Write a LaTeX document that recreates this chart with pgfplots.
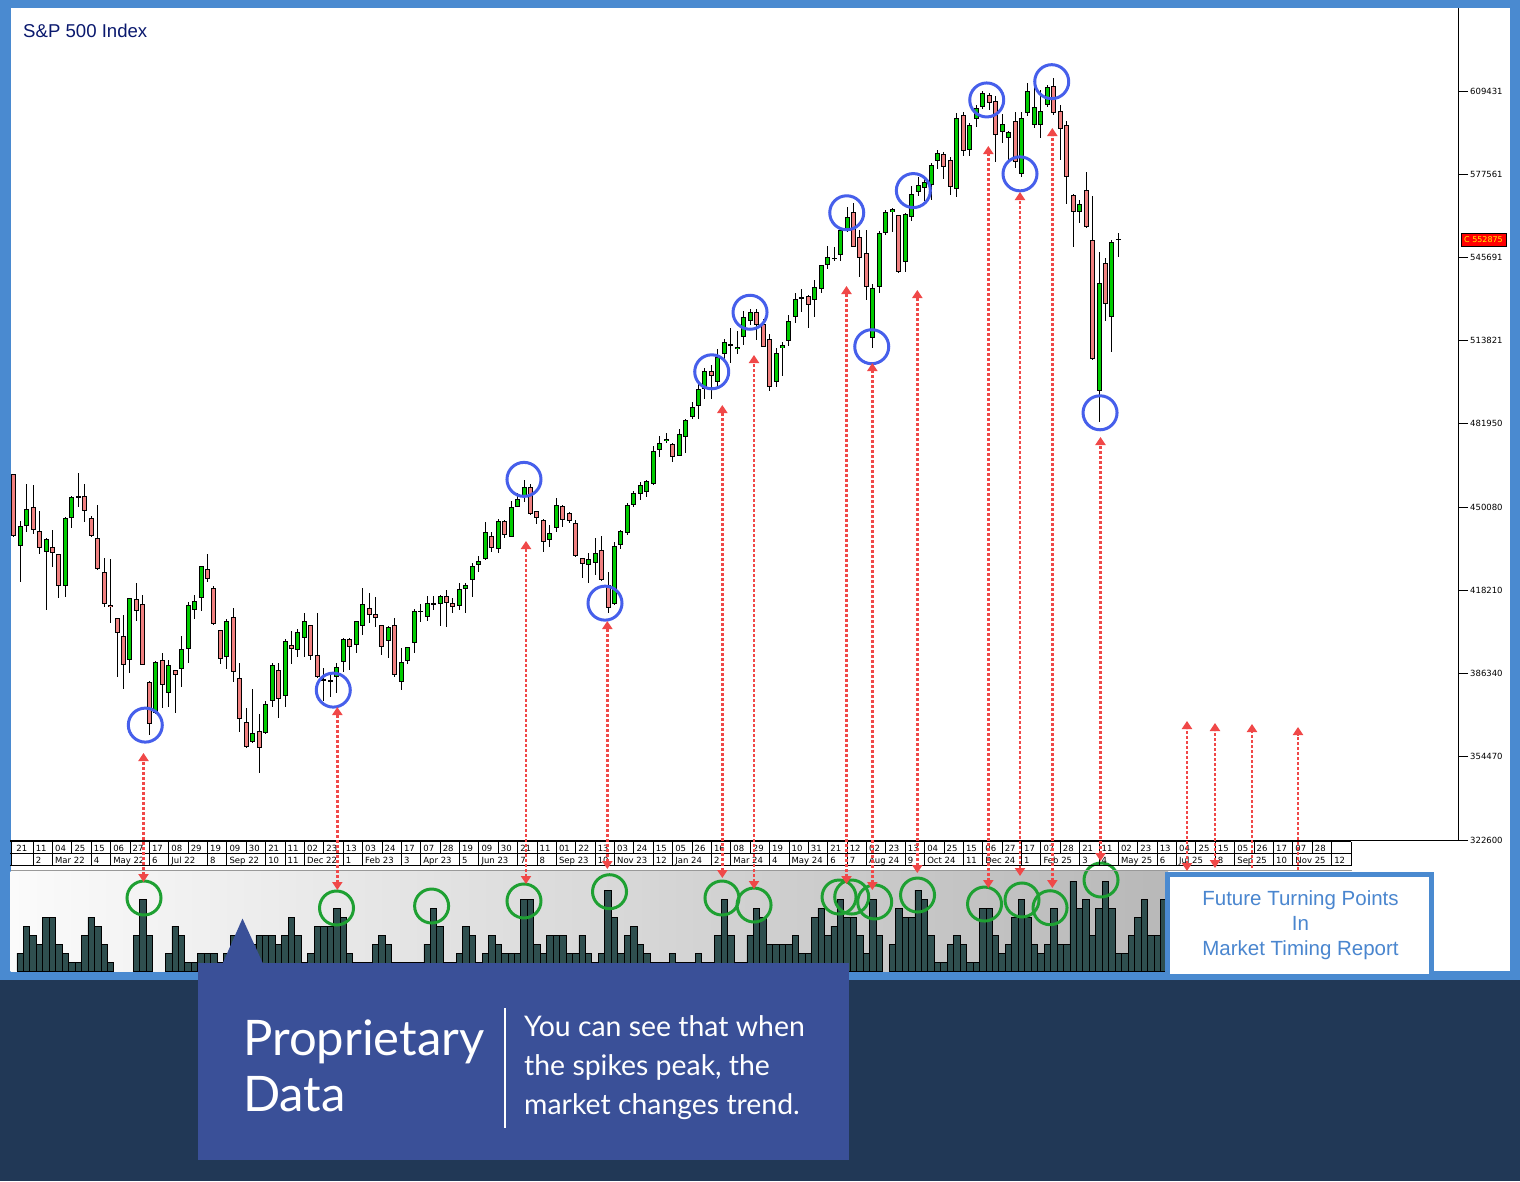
\documentclass[border=0pt]{standalone}
\usepackage{pgfplots}
\pgfplotsset{compat=1.18}
\usepackage{pgfplotstable}
\usetikzlibrary{arrows.meta}
\usepackage{fontspec}
\setmainfont{Liberation Sans}
\newfontfamily\dejavu{DejaVu Sans}
\newfontfamily\lato{Lato}

\definecolor{frameblue}{RGB}{74,138,208}
\definecolor{navyband}{RGB}{33,56,86}
\definecolor{callout}{RGB}{58,80,152}
\definecolor{upgreen}{RGB}{0,204,0}
\definecolor{downpink}{RGB}{240,128,128}
\definecolor{circblue}{RGB}{70,95,235}
\definecolor{circgreen}{RGB}{30,160,50}
\definecolor{arrowred}{RGB}{240,72,72}
\definecolor{histbar}{RGB}{47,79,79}
\definecolor{histleft}{RGB}{251,251,251}
\definecolor{histright}{RGB}{184,184,184}
\definecolor{titlenavy}{RGB}{10,25,110}
\definecolor{futureblue}{RGB}{74,134,207}

\newcommand\datefont{\dejavu\fontsize{8.5}{9}\selectfont}

\tikzset{
 turn/.style={draw=arrowred, line width=2.8pt, dash pattern=on 3pt off 2pt,
   {Triangle[width=10pt,length=8pt]}-{Triangle[width=10pt,length=8pt]}},
 turnup/.style={draw=arrowred, line width=2.8pt, dash pattern=on 3pt off 2pt,
   -{Triangle[width=10pt,length=8pt]}}
}

\pgfplotstableread{
n o h l c
1 4627 4627 4388 4390
2 4351 4448 4215 4427
3 4427 4589 4407 4495
4 4500 4586 4397 4412
5 4408 4486 4320 4343
6 4328 4381 4108 4379
7 4349 4413 4273 4324
8 4320 4322 4152 4198
9 4198 4464 4156 4458
10 4458 4543 4420 4538
11 4537 4630 4502 4542
12 4542 4589 4445 4485
13 4458 4466 4385 4389
14 4381 4509 4260 4265
15 4251 4305 4120 4129
16 4125 4302 4056 4117
17 4075 4077 3851 4018
18 4006 4088 3805 3896
19 3914 4153 3867 4152
20 4148 4209 4066 4103
21 4130 4164 3895 3896
22 3832 3833 3628 3669
23 3712 3912 3710 3908
24 3914 3943 3733 3819
25 3788 3915 3737 3895
26 3876 3878 3714 3857
27 3880 4007 3813 3956
28 3959 4139 3905 4125
29 4107 4164 4074 4140
30 4152 4276 4104 4274
31 4263 4320 4214 4226
32 4190 4199 4050 4052
33 4029 4031 3899 3919
34 3926 4071 3880 4065
35 4079 4113 3832 3868
36 3845 3903 3641 3688
37 3677 3730 3577 3581
38 3603 3803 3599 3635
39 3642 3709 3484 3577
40 3635 3757 3632 3748
41 3757 3903 3737 3895
42 3876 3903 3692 3765
43 3776 3997 3737 3987
44 3972 4028 3900 3959
45 3953 4033 3928 4021
46 3999 4094 3928 4065
47 4048 4050 3915 3930
48 3933 4097 3847 3849
49 3842 3884 3760 3839
50 3834 3858 3775 3837
51 3851 3903 3788 3890
52 3907 3999 3871 3996
53 3996 3998 3877 3966
54 3972 4065 3941 4064
55 4044 4190 4011 4131
56 4113 4173 4056 4087
57 4090 4156 4043 4075
58 4048 4050 3935 3964
59 3987 4046 3922 4041
60 4048 4075 3851 3857
61 3831 3960 3801 3909
62 3913 3966 3900 3964
63 3979 4110 3943 4104
64 4100 4130 4062 4103
65 4079 4162 4066 4133
66 4127 4162 4107 4133
67 4129 4163 4046 4162
68 4162 4183 4043 4133
69 4133 4152 4094 4117
70 4123 4209 4107 4186
71 4186 4209 4097 4201
72 4222 4288 4158 4277
73 4278 4314 4254 4293
74 4303 4445 4298 4404
75 4390 4406 4330 4343
76 4339 4454 4324 4447
77 4447 4452 4381 4393
78 4388 4525 4385 4500
79 4502 4556 4500 4531
80 4543 4605 4522 4577
81 4579 4589 4471 4473
82 4485 4486 4436 4458
83 4453 4454 4330 4367
84 4374 4431 4349 4402
85 4421 4537 4407 4510
86 4504 4508 4424 4450
87 4477 4483 4439 4447
88 4439 4452 4309 4315
89 4305 4306 4231 4282
90 4279 4324 4211 4303
91 4286 4381 4241 4324
92 4337 4390 4219 4222
93 4203 4254 4094 4113
94 4130 4368 4126 4353
95 4356 4413 4339 4409
96 4402 4518 4393 4509
97 4508 4563 4502 4554
98 4550 4598 4528 4587
99 4558 4605 4541 4600
100 4588 4735 4585 4715
101 4720 4773 4692 4748
102 4753 4786 4745 4763
103 4741 4748 4675 4692
104 4698 4799 4696 4780
105 4768 4837 4709 4833
106 4847 4902 4837 4885
107 4888 4975 4839 4952
108 4952 5033 4914 5021
109 5021 5045 4914 5003
110 4981 5105 4956 5077
111 5087 5144 5064 5133
112 5124 5186 5052 5117
113 5105 5175 5087 5113
114 5151 5253 5122 5228
115 5212 5258 5198 5249
116 5249 5258 5141 5197
117 5202 5220 5113 5115
118 5144 5164 4947 4962
119 4981 5109 4962 5092
120 5109 5134 5003 5121
121 5136 5238 5118 5215
122 5228 5320 5205 5297
123 5301 5335 5249 5303
124 5311 5312 5186 5275
125 5294 5371 5230 5344
126 5335 5429 5322 5427
127 5427 5501 5414 5458
128 5452 5498 5442 5455
129 5466 5562 5443 5561
130 5561 5649 5556 5611
131 5632 5664 5496 5498
132 5536 5562 5383 5454
133 5473 5562 5294 5343
134 5147 5354 5111 5341
135 5343 5558 5320 5550
136 5552 5639 5543 5631
137 5632 5645 5556 5641
138 5620 5621 5396 5402
139 5438 5626 5400 5622
140 5611 5731 5598 5699
141 5707 5764 5693 5734
142 5722 5762 5673 5745
143 5734 5820 5677 5811
144 5828 5869 5796 5856
145 5852 5862 5756 5802
146 5829 5842 5696 5725
147 5718 6009 5690 5990
148 6003 6015 5847 5865
149 5867 5973 5846 5963
150 5986 6041 5958 6028
151 6034 6094 6024 6086
152 6079 6086 6022 6047
153 6057 6075 5824 5925
154 5936 6005 5896 5967
155 5914 5942 5830 5936
156 5978 6015 5798 5821
157 5775 6015 5766 5990
158 6009 6124 5999 6096
159 5963 6117 5954 6034
160 5963 6098 5916 6019
161 6040 6117 6034 6109
162 6115 6143 6003 6009
163 6019 6041 5830 5948
164 5963 5980 5661 5764
165 5697 5699 5498 5632
166 5630 5677 5590 5661
167 5714 5783 5569 5575
168 5523 5692 5064 5067
169 4947 5477 4828 5358
170 5435 5454 5215 5278
171 5228 5523 5096 5517
172 5523 5550 5460 5529
}\candles

\pgfplotstableread{
n v
2 2
3 5
4 4
5 3
6 6
7 6
8 3
9 2
10 1
11 1
12 4
13 6
14 5
15 3
16 1
20 4
21 8
22 4
25 2
26 5
27 4
28 1
29 1
30 2
31 2
32 2
33 1
34 2
35 4
36 3
37 3
38 3
39 4
40 4
41 4
42 3
43 4
44 6
45 4
46 1
47 2
48 5
49 5
50 5
51 7
52 6
53 2
54 1
55 1
56 1
57 3
58 4
59 3
60 1
61 1
62 1
63 1
64 1
65 3
66 7
67 5
68 1
69 1
70 2
71 5
72 4
73 1
74 2
75 4
76 3
77 2
78 2
79 2
80 8
81 8
82 3
83 2
84 4
85 4
86 4
87 2
88 2
89 4
90 2
91 1
92 2
93 9
94 6
95 2
96 4
97 5
98 3
99 2
100 1
101 1
102 1
103 2
104 1
105 1
106 1
107 2
108 1
109 1
110 4
111 8
112 4
113 1
114 1
115 4
116 7
117 6
118 3
119 3
120 3
121 3
122 4
123 2
124 2
125 6
126 7
127 4
128 5
129 8
130 6
131 6
132 4
133 2
134 8
135 4
137 3
138 7
139 6
140 6
141 9
142 8
143 4
144 1
145 1
146 3
147 4
148 3
149 1
150 1
151 7
152 7
153 4
154 2
155 3
156 6
157 8
158 6
159 3
160 2
161 3
162 7
163 3
164 3
165 10
166 7
167 8
168 4
169 7
170 10
171 7
172 2
173 2
174 4
175 6
176 8
177 4
178 4
179 8
}\hist

\begin{document}
\begin{tikzpicture}
\useasboundingbox (0pt,0pt) rectangle (1520pt,-1181pt);
\begin{scope}[x=1pt,y=-1pt]
 \fill[frameblue] (0,0) rectangle (1520,1181);
 \fill[navyband] (0,980) rectangle (1520,1181);
 \fill[white] (10.5,8) rectangle (1510,971);
 \shade[left color=histleft, right color=histright] (10.5,871) rectangle (1168,971);
\end{scope}

% ---------- candlestick chart ----------
\begin{axis}[
  at={(10pt,-840pt)}, anchor=south west,
  width=1448pt, height=832pt, scale only axis,
  xmin=0.427, xmax=224.57, ymin=3226, ymax=6412.2,
  axis x line*=bottom, axis y line*=right,
  axis line style={-, line width=1pt, black},
  xtick=\empty,
  ytick={3226,3544.7,3863.4,4182.1,4500.8,4819.5,5138.21,5456.91,5775.61,6094.31},
  yticklabels={322600,354470,386340,418210,450080,481950,513821,545691,577561,609431},
  tick align=outside, major tick length=10pt,
  tick style={black, line width=0.8pt},
  yticklabel style={font=\datefont, anchor=west, inner sep=0pt, xshift=2pt, text=black},
  clip=true,
]
% wicks
\addplot[draw=none, mark=none, error bars/.cd, y dir=both, y explicit, error mark=none,
  error bar style={draw=black, line width=1pt}]
  table[x=n, y expr={(\thisrow{h}+\thisrow{l})/2}, y error expr={(\thisrow{h}-\thisrow{l})/2}] {\candles};
% body outlines
\addplot[draw=none, mark=none, error bars/.cd, y dir=both, y explicit, error mark=none,
  error bar style={draw=black, line width=5pt}]
  table[x=n, y expr={(\thisrow{o}+\thisrow{c})/2}, y error expr={max(abs(\thisrow{c}-\thisrow{o})/2,2)}] {\candles};
% up bodies
\addplot[draw=none, mark=none, error bars/.cd, y dir=both, y explicit, error mark=none,
  error bar style={draw=upgreen, line width=3pt}]
  table[x=n, y expr={(\thisrow{c}>=\thisrow{o}) ? ((\thisrow{o}+\thisrow{c})/2) : 0},
        y error expr={max(abs(\thisrow{c}-\thisrow{o})/2-3.8,0)}] {\candles};
% down bodies
\addplot[draw=none, mark=none, error bars/.cd, y dir=both, y explicit, error mark=none,
  error bar style={draw=downpink, line width=3pt}]
  table[x=n, y expr={(\thisrow{c}<\thisrow{o}) ? ((\thisrow{o}+\thisrow{c})/2) : 0},
        y error expr={max(abs(\thisrow{c}-\thisrow{o})/2-3.8,0)}] {\candles};
% turning point circles
\addplot[only marks, mark=o, mark size=17pt, mark options={draw=circblue, line width=3pt, fill=none}]
  coordinates {(21.37,3666) (50.47,3800) (79.99,4607) (92.53,4133) (109.05,5019) (114.98,5247)
  (129.95,5628) (133.82,5115) (140.26,5713) (151.62,6060) (156.77,5777) (161.68,6130) (169.16,4862)};
\end{axis}

% ---------- proprietary histogram ----------
\begin{axis}[
  at={(10pt,-971pt)}, anchor=south west,
  width=1158pt, height=100pt, scale only axis,
  xmin=0.427, xmax=179.68, ymin=0, ymax=11.11,
  hide axis, clip=false,
]
\addplot[ybar, bar width=1, fill=histbar, draw=black, line width=0.8pt] table[x=n,y=v]{\hist};
\addplot[only marks, mark=o, mark size=17pt, mark options={draw=circgreen, line width=3pt, fill=none}]
  coordinates {(21.17,8.11) (50.97,7.0) (65.69,7.22) (79.99,7.78) (93.23,8.81) (110.64,8.11)
  (115.6,7.33) (128.76,8.22) (130.72,8.22) (134.28,7.67) (140.91,8.44) (151.28,7.44)
  (157.08,7.89) (161.42,7.03) (169.31,10.11)};
\end{axis}

\begin{scope}[x=1pt,y=-1pt]
 % title
 \node[anchor=base west, inner sep=0pt, text=titlenavy, font=\fontsize{18.6}{21}\selectfont] at (23,37.5) {S\&P 500 Index};
 % last price label
 \node[fill=red, draw=black, line width=0.6pt, text=yellow, font=\dejavu\fontsize{8}{9}\selectfont,
   inner sep=0.5pt, minimum width=45pt, minimum height=13pt, anchor=west] at (1460.7,240) {C 552875};
 % histogram top line
 \draw[gray!80, line width=1.5pt] (10.5,870.5) -- (1352,870.5);
 % date table
 \draw[black, line width=0.8pt] (10,841.5) -- (1351,841.5) (10,853.5) -- (1351,853.5) (10,865.5) -- (1351,865.5);
 \draw[black, line width=0.8pt] (10.9,841.5) -- (10.9,865.5) (1351,841.5) -- (1351,865.5);
 \foreach \k in {1,...,68} \draw[black, line width=0.8pt] ({13.7+19.38*\k},841.5) -- ({13.7+19.38*\k},853.5);
 \foreach \lab [count=\i from 0] in {21,11,04,25,15,06,27,17,08,29,19,09,30,21,11,02,23,13,03,24,17,07,28,19,09,30,21,11,01,22,13,03,24,15,05,26,16,08,29,19,10,31,21,12,02,23,13,04,25,15,06,27,17,07,28,21,11,02,23,13,04,25,15,05,26,17,07,28}
   \node[anchor=base west, inner sep=0pt, font=\datefont] at ({13.7+19.38*\i+2.5},851.3) {\lab};
 \foreach \k/\lab in {1/2, 2/Mar 22, 4/4, 5/May 22, 7/6, 8/Jul 22, 10/8, 11/Sep 22, 13/10, 14/11, 15/Dec 22, 17/1, 18/Feb 23, 20/3, 21/Apr 23, 23/5, 24/Jun 23, 26/7, 27/8, 28/Sep 23, 30/10, 31/Nov 23, 33/12, 34/Jan 24, 36/2, 37/Mar 24, 39/4, 40/May 24, 42/6, 43/7, 44/Aug 24, 46/9, 47/Oct 24, 49/11, 50/Dec 24, 52/1, 53/Feb 25, 55/3, 56/4, 57/May 25, 59/6, 60/Jul 25, 62/8, 63/Sep 25, 65/10, 66/Nov 25, 68/12} {
   \draw[black, line width=0.8pt] ({13.7+19.38*\k},853.5) -- ({13.7+19.38*\k},865.5);
   \node[anchor=base west, inner sep=0pt, font=\datefont] at ({13.7+19.38*\k+2.5},863.3) {\lab};
 }
 % turning-point arrows
 \draw[turn] (143.5,882) -- (143.5,753);
 \draw[turn] (337.3,890) -- (337.3,707);
 \draw[turn] (526,884) -- (526,541);
 \draw[turn] (607.3,869) -- (607.3,621);
 \draw[turn] (722.3,878) -- (722.3,405);
 \draw[turn] (754,889) -- (754,355);
 \draw[turn] (846.5,884) -- (846.5,286);
 \draw[turn] (872.3,890) -- (872.3,363);
 \draw[turn] (917.3,873) -- (917.3,290);
 \draw[turn] (988.3,888) -- (988.3,146);
 \draw[turn] (1020,876) -- (1020,192);
 \draw[turn] (1052.3,888) -- (1052.3,128);
 \draw[turn] (1100.5,861) -- (1100.5,437);
 \draw[turn] (1187,871) -- (1187,721);
 \draw[turn] (1215,868) -- (1215,723);
 \draw[turnup] (1252,868) -- (1252,724);
 \draw[turnup] (1298,870) -- (1298,727);
 % future box
 \draw[frameblue, line width=4.6pt, fill=white] (1167.5,874.5) rectangle (1431.7,976);
 \node[anchor=base, inner sep=0pt, text=futureblue, font=\fontsize{20.5}{24}\selectfont] at (1300.5,905.7) {Future Turning Points};
 \node[anchor=base, inner sep=0pt, text=futureblue, font=\fontsize{20.5}{24}\selectfont] at (1300.5,930) {In};
 \node[anchor=base, inner sep=0pt, text=futureblue, font=\fontsize{20.5}{24}\selectfont] at (1300.5,955) {Market Timing Report};
 % callout
 \fill[callout] (198,963) rectangle (849,1160);
 \fill[callout] (222.6,963.5) -- (242.5,918.5) -- (263,963.5) -- cycle;
 \draw[white, line width=2pt] (505,1008) -- (505,1128);
 \node[anchor=base west, inner sep=0pt, text=white, font=\lato\fontsize{49}{55}\selectfont] at (243,1055) {Proprietary};
 \node[anchor=base west, inner sep=0pt, text=white, font=\lato\fontsize{49}{55}\selectfont] at (243,1111) {Data};
 \node[anchor=base west, inner sep=0pt, text=white, font=\lato\fontsize{28.4}{32}\selectfont] at (524,1036) {You can see that when};
 \node[anchor=base west, inner sep=0pt, text=white, font=\lato\fontsize{28.4}{32}\selectfont] at (524,1075) {the spikes peak, the};
 \node[anchor=base west, inner sep=0pt, text=white, font=\lato\fontsize{28.4}{32}\selectfont] at (524,1114) {market changes trend.};
\end{scope}
\end{tikzpicture}
\end{document}
